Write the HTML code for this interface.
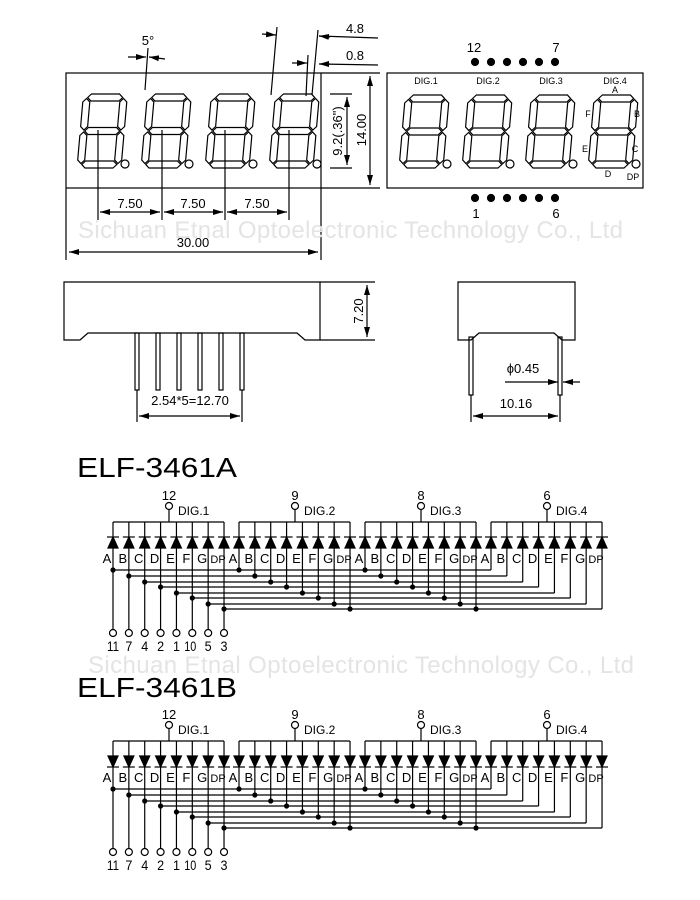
<!DOCTYPE html>
<html><head><meta charset="utf-8"><style>
html,body{margin:0;padding:0;background:#fff}
svg{display:block}
text{font-family:"Liberation Sans",Arial,sans-serif;fill:#000}
</style></head><body>
<svg id="s" width="700" height="900" viewBox="0 0 700 900" xmlns="http://www.w3.org/2000/svg">
<defs>
<marker id="ar" viewBox="0 0 10 6" refX="10" refY="3" markerWidth="10" markerHeight="6" markerUnits="userSpaceOnUse" orient="auto-start-reverse"><path d="M0,0 L10,3 L0,6 z" fill="#000"/></marker>
</defs>
<g fill="none" stroke="#000" stroke-width="1.2">
<rect x="66" y="73" width="255" height="115"/>
<line x1="321" y1="73" x2="380" y2="73"/><line x1="321" y1="188" x2="380" y2="188"/>
<line x1="370" y1="76" x2="370" y2="185" marker-start="url(#ar)" marker-end="url(#ar)"/>
<line x1="330" y1="94" x2="352" y2="94"/><line x1="330" y1="168" x2="352" y2="168"/>
<line x1="347" y1="97" x2="347" y2="165" marker-start="url(#ar)" marker-end="url(#ar)"/>
<line x1="66" y1="188" x2="66" y2="260"/><line x1="321" y1="188" x2="321" y2="260"/>
<line x1="69" y1="252" x2="318" y2="252" marker-start="url(#ar)" marker-end="url(#ar)"/>
<line x1="98" y1="130" x2="98" y2="220"/><line x1="162" y1="130" x2="162" y2="220"/>
<line x1="225" y1="130" x2="225" y2="220"/><line x1="289" y1="130" x2="289" y2="220"/>
<line x1="100" y1="212" x2="160" y2="212" marker-start="url(#ar)" marker-end="url(#ar)"/>
<line x1="164" y1="212" x2="223" y2="212" marker-start="url(#ar)" marker-end="url(#ar)"/>
<line x1="227" y1="212" x2="287" y2="212" marker-start="url(#ar)" marker-end="url(#ar)"/>
<line x1="148" y1="48" x2="145" y2="90"/>
<line x1="128" y1="57" x2="146" y2="57" marker-end="url(#ar)"/>
<line x1="165" y1="59" x2="149" y2="57" marker-end="url(#ar)"/>
<line x1="277" y1="27" x2="271" y2="95"/><line x1="318" y1="30" x2="312" y2="95"/>
<line x1="262" y1="34" x2="276" y2="35" marker-end="url(#ar)"/>
<line x1="378" y1="38" x2="319" y2="36"/><line x1="330" y1="37" x2="319" y2="36" marker-end="url(#ar)"/>
<line x1="308" y1="55" x2="306" y2="96"/>
<line x1="292" y1="63" x2="307" y2="63" marker-end="url(#ar)"/>
<line x1="378" y1="65" x2="320" y2="64"/><line x1="330" y1="64" x2="319" y2="64" marker-end="url(#ar)"/>
<rect x="387" y="73" width="256" height="115"/>
<path d="M64,282 H320 V340 H305 L297,333 H88 L80,340 H64 Z"/>
<line x1="320" y1="282" x2="375" y2="282"/><line x1="320" y1="340" x2="375" y2="340"/>
<line x1="367" y1="285" x2="367" y2="337" marker-start="url(#ar)" marker-end="url(#ar)"/>
<line x1="137" y1="390" x2="137" y2="422"/><line x1="242" y1="390" x2="242" y2="422"/>
<line x1="139" y1="416" x2="240" y2="416" marker-start="url(#ar)" marker-end="url(#ar)"/>
<path d="M458,282 H575 V340 H562 L554,333 H479 L471,340 H458 Z"/>
<line x1="471" y1="395" x2="471" y2="422"/><line x1="560" y1="395" x2="560" y2="422"/>
<line x1="473" y1="416" x2="558" y2="416" marker-start="url(#ar)" marker-end="url(#ar)"/>
<line x1="505" y1="382" x2="558" y2="382" marker-end="url(#ar)"/>
<line x1="580" y1="382" x2="563" y2="382" marker-end="url(#ar)"/>
</g>
<g id="gen" fill="none" stroke="#000" stroke-width="1.2"></g>
<g font-size="13">
<text x="148" y="45" text-anchor="middle">5°</text>
<text x="355" y="33" text-anchor="middle">4.8</text>
<text x="355" y="60" text-anchor="middle">0.8</text>
<text x="130" y="208" text-anchor="middle">7.50</text>
<text x="193" y="208" text-anchor="middle">7.50</text>
<text x="257" y="208" text-anchor="middle">7.50</text>
<text x="193" y="247" text-anchor="middle">30.00</text>
<text transform="translate(366,130) rotate(-90)" text-anchor="middle">14.00</text>
<text transform="translate(342,131) rotate(-90)" text-anchor="middle">9.2(.36")</text>
<text transform="translate(363,311) rotate(-90)" text-anchor="middle">7.20</text>
<text x="190" y="405" text-anchor="middle">2.54*5=12.70</text>
<text x="516" y="408" text-anchor="middle">10.16</text>
<text x="523" y="373" text-anchor="middle">ϕ0.45</text>
<text x="474" y="52" text-anchor="middle">12</text>
<text x="556" y="52" text-anchor="middle">7</text>
<text x="476" y="218" text-anchor="middle">1</text>
<text x="556" y="218" text-anchor="middle">6</text>
</g>
<g font-size="9">
<text x="426" y="84" text-anchor="middle">DIG.1</text>
<text x="488" y="84" text-anchor="middle">DIG.2</text>
<text x="551" y="84" text-anchor="middle">DIG.3</text>
<text x="615" y="84" text-anchor="middle">DIG.4</text>
<text x="615" y="93" text-anchor="middle">A</text>
<text x="637" y="117" text-anchor="middle">B</text>
<text x="635" y="152" text-anchor="middle">C</text>
<text x="608" y="177" text-anchor="middle">D</text>
<text x="585" y="152" text-anchor="middle">E</text>
<text x="588" y="117" text-anchor="middle">F</text>
<text x="633" y="180" text-anchor="middle">DP</text>
</g>
<g font-size="24">
<text x="78" y="238" style="fill:#e4e4e4" textLength="545">Sichuan Etnal Optoelectronic Technology Co., Ltd</text>
<text x="88" y="673" style="fill:#e4e4e4" textLength="546">Sichuan Etnal Optoelectronic Technology Co., Ltd</text>
</g>
<g font-size="28">
<text x="77" y="477" textLength="160" lengthAdjust="spacingAndGlyphs">ELF-3461A</text>
<text x="77" y="697" textLength="160" lengthAdjust="spacingAndGlyphs">ELF-3461B</text>
</g>
<g id="lab" font-size="13"></g>
</svg>
<script>
var G=document.getElementById('gen'),L=document.getElementById('lab'),h='',t='';
function P(a){return '<polygon points="'+a.map(function(p){return p[0].toFixed(1)+','+p[1].toFixed(1)}).join(' ')+'"/>';}
function hs(xa,xb,c,w){return P([[xa,c],[xa+w/2,c-w/2],[xb-w/2,c-w/2],[xb,c],[xb-w/2,c+w/2],[xa+w/2,c+w/2]]);}
function vs(ya,yb,c,w){return P([[c,ya],[c+w/2,ya+w/2],[c+w/2,yb-w/2],[c,yb],[c-w/2,yb-w/2],[c-w/2,ya+w/2]]);}
function digit(x,y,W,H){var w=7,s='';
 s+=hs(x+w/2+1,x+W-w/2-1,y+w/2,w);s+=hs(x+w/2+1,x+W-w/2-1,y+H/2,w);s+=hs(x+w/2+1,x+W-w/2-1,y+H-w/2,w);
 s+=vs(y+w/2+1,y+H/2-1,x+w/2,w);s+=vs(y+w/2+1,y+H/2-1,x+W-w/2,w);
 s+=vs(y+H/2+1,y+H-w/2-1,x+w/2,w);s+=vs(y+H/2+1,y+H-w/2-1,x+W-w/2,w);
 h+='<g transform="translate('+x+','+(y+H)+') skewX(-5) translate('+(-x)+','+(-(y+H))+')">'+s+'</g>';
 h+='<circle cx="'+(x+W+4)+'" cy="'+(y+H-4)+'" r="4"/>';}
for(var i=0;i<4;i++){digit(77+i*64,94,44,74);digit(399+i*63,95,44,73);}
for(i=0;i<6;i++){h+='<circle cx="'+(475+i*16)+'" cy="62" r="3.5" fill="#000"/><circle cx="'+(475+i*16)+'" cy="198" r="3.5" fill="#000"/>';}
var px=[137,158,179,200,221,242];
for(i=0;i<6;i++){h+='<rect x="'+(px[i]-2)+'" y="333" width="4" height="57"/>';}
h+='<rect x="469" y="337" width="4" height="58"/><rect x="558" y="337" width="4" height="58"/>';
var letters=['A','B','C','D','E','F','G','DP'],pins=['12','9','8','6'],bot=['11','7','4','2','1','10','5','3'];
function schem(o,up){
 var bus=522+o,dy=543+o,hy=[570,576,582,587,593,598,604,609];
 for(var g=0;g<4;g++){
  var gx=113+g*126,cx=169+g*126;
  h+='<line x1="'+gx+'" y1="'+bus+'" x2="'+(gx+111)+'" y2="'+bus+'"/>';
  h+='<line x1="'+cx+'" y1="'+bus+'" x2="'+cx+'" y2="'+(510+o)+'"/><circle cx="'+cx+'" cy="'+(506+o)+'" r="3.5" fill="#fff"/>';
  t+='<text x="'+cx+'" y="'+(500+o)+'" text-anchor="middle">'+pins[g]+'</text>';
  t+='<text x="'+(cx+9)+'" y="'+(515+o)+'" font-size="12">DIG.'+(g+1)+'</text>';
  for(var k=0;k<8;k++){
   var x=gx+k*15.86,yy=hy[k]+o;
   var tri=up?P([[x,dy-6],[x-5,dy+5],[x+5,dy+5]]):P([[x,dy+5],[x-5,dy-6],[x+5,dy-6]]);
   h+='<g fill="#000">'+tri+'</g>';
   var by=up?dy-6:dy+5;
   h+='<line x1="'+(x-6)+'" y1="'+by+'" x2="'+(x+6)+'" y2="'+by+'"/>';
   t+='<text x="'+(x-6)+'" y="'+(563+o)+'" text-anchor="middle" font-size="'+(k==7?11:13)+'">'+letters[k]+'</text>';
   if(g==0){
    h+='<line x1="'+x+'" y1="'+bus+'" x2="'+x+'" y2="'+(629+o)+'"/><circle cx="'+x+'" cy="'+(633+o)+'" r="3.5" fill="#fff"/>';
    h+='<line x1="'+x+'" y1="'+yy+'" x2="'+(491+k*15.86)+'" y2="'+yy+'"/><circle cx="'+x+'" cy="'+yy+'" r="2" fill="#000"/>';
    t+='<text x="'+(x+(k==5?-2:0))+'" y="'+(651+o)+'" text-anchor="middle" font-size="14" textLength="'+(bot[k].length>1?12:7)+'" lengthAdjust="spacingAndGlyphs">'+bot[k]+'</text>';
   }else{
    h+='<line x1="'+x+'" y1="'+bus+'" x2="'+x+'" y2="'+yy+'"/>';
    if(g<3)h+='<circle cx="'+x+'" cy="'+yy+'" r="2" fill="#000"/>';
   }
  }
 }
}
schem(0,true);schem(219,false);
G.innerHTML=h;L.innerHTML=t;
</script>
</body></html>
